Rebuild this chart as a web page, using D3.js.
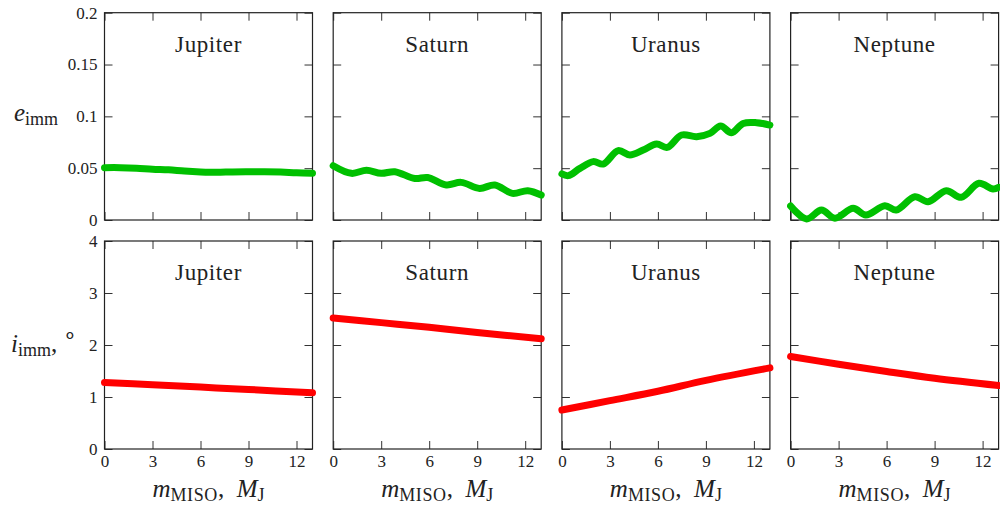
<!DOCTYPE html>
<html>
<head>
<meta charset="utf-8">
<script src="https://cdn.jsdelivr.net/npm/d3@7"></script>
<style>
  body { margin: 0; background: #fff; }
  text { font-family: "Liberation Serif", "Times New Roman", serif; fill: #222; }
</style>
</head>
<body>
<svg id="chart" width="1000" height="508"></svg>
<script>
// planets (columns)
const planets = ["Jupiter", "Saturn", "Uranus", "Neptune"];

// eccentricity e_imm vs m_MISO  [m, e]
const eJupiter = [[0,0.0505],[1,0.0505],[2,0.0500],[3,0.0490],[4,0.0484],[5,0.0472],[6,0.0464],[7,0.0460],[8,0.0464],[9,0.0465],[10,0.0465],[11,0.0462],[12,0.0456],[13,0.0452]];
const eSaturn = [[0,0.0524],[1.14,0.0450],[2.08,0.0480],[3.0,0.0450],[3.85,0.0466],[5.1,0.0400],[5.9,0.0410],[7.07,0.0338],[8.0,0.0363],[9.15,0.0305],[10.1,0.0338],[11.2,0.0257],[12.16,0.0283],[13,0.0241]];
const eUranus = [[0,0.0444],[0.4,0.0428],[1.13,0.0498],[1.96,0.0563],[2.58,0.0540],[3.52,0.0669],[4.25,0.0627],[5.08,0.0675],[5.92,0.0733],[6.58,0.0701],[7.48,0.0820],[8.42,0.0804],[9.25,0.0836],[9.92,0.0907],[10.6,0.0842],[11.33,0.0932],[12.17,0.0939],[13,0.0916]];
const eNeptune = [[0,0.0135],[1.0,0.0010],[1.93,0.0096],[2.77,0.0018],[3.91,0.0113],[4.7,0.0048],[5.89,0.0138],[6.6,0.0096],[7.76,0.0225],[8.59,0.0177],[9.73,0.0283],[10.67,0.0219],[11.77,0.0354],[12.65,0.0299],[13,0.0315]];

// inclination i_imm (deg) vs m_MISO  [m, i]
const iJupiter = [[0,1.28],[3,1.235],[6,1.19],[9,1.145],[13,1.08]];
const iSaturn = [[0,2.52],[3,2.43],[6,2.34],[9,2.24],[13,2.12]];
const iUranus = [[0,0.75],[3,0.93],[6,1.11],[9,1.32],[13,1.56]];
const iNeptune = [[0,1.78],[3,1.63],[6,1.49],[9,1.36],[13,1.22]];

const eSeries = [eJupiter, eSaturn, eUranus, eNeptune];
const iSeries = [iJupiter, iSaturn, iUranus, iNeptune];

const xTicks = [0, 3, 6, 9, 12];
const eTicks = [0, 0.05, 0.1, 0.15, 0.2];
const iTicks = [0, 1, 2, 3, 4];

// layout
const svg = d3.select("#chart");
const left = 104.5, pw = 208, gap = 20.7;
const rows = [
  { top: 12.7, h: 207.3, domain: [0, 0.2], ticks: eTicks, fmt: d => d === 0 ? "0" : String(d), series: eSeries, color: "#00c000" },
  { top: 241, h: 208, domain: [0, 4], ticks: iTicks, fmt: d => String(d), series: iSeries, color: "#ff0000" }
];

rows.forEach((row, ri) => {
  planets.forEach((name, ci) => {
    const x0 = left + ci * (pw + gap);
    const g = svg.append("g").attr("transform", `translate(${x0},${row.top})`);
    const x = d3.scaleLinear().domain([0, 13]).range([0, pw]);
    const y = d3.scaleLinear().domain(row.domain).range([row.h, 0]);

    // axes: ticks inward on all sides
    const tl = 8;
    const axL = g.append("g").call(d3.axisLeft(y).tickValues(row.ticks).tickSizeInner(-tl).tickSizeOuter(0).tickPadding(7).tickFormat(ci === 0 ? row.fmt : () => ""));
    const axR = g.append("g").attr("transform", `translate(${pw},0)`)
      .call(d3.axisRight(y).tickValues(row.ticks).tickSizeInner(-tl).tickSizeOuter(0).tickFormat(() => ""));
    const axT = g.append("g").call(d3.axisTop(x).tickValues(xTicks).tickSizeInner(-tl).tickSizeOuter(0).tickFormat(() => ""));
    const axB = g.append("g").attr("transform", `translate(0,${row.h})`)
      .call(d3.axisBottom(x).tickValues(xTicks).tickSizeInner(-tl).tickSizeOuter(0).tickPadding(6).tickFormat(ri === 1 ? d => String(d) : () => ""));
    [axL, axR, axT, axB].forEach(a => {
      a.attr("font-family", '"Liberation Serif", serif').attr("font-size", 17);
      a.select(".domain").remove();
      a.selectAll("line").attr("stroke", "#333").attr("stroke-width", 1);
      a.selectAll("text").attr("fill", "#222").style("font-family", '"Liberation Serif", serif');
    });

    // frame
    g.append("rect").attr("width", pw).attr("height", row.h)
      .attr("fill", "none").attr("stroke", "#222").attr("stroke-width", 1.2);

    // title
    g.append("text").attr("x", pw / 2).attr("y", 39).attr("text-anchor", "middle")
      .style("font-size", "23px").style("letter-spacing", "0.6px").text(name);

    // curve
    const line = d3.line().x(d => x(d[0])).y(d => y(d[1])).curve(d3.curveCatmullRom.alpha(0.5));
    g.append("path").datum(row.series[ci]).attr("d", line)
      .attr("fill", "none").attr("stroke", row.color).attr("stroke-width", 7)
      .attr("stroke-linecap", "round").attr("stroke-linejoin", "round");

    // x label under bottom row
    if (ri === 1) {
      const t = svg.append("text").attr("x", x0 + pw / 2).attr("y", 497).attr("text-anchor", "middle").style("font-size", "25px");
      t.append("tspan").style("font-style", "italic").text("m");
      t.append("tspan").attr("dy", 4).style("font-size", "18px").style("letter-spacing", "0.6px").text("MISO");
      t.append("tspan").attr("dy", -4).text(",\u2002");
      t.append("tspan").style("font-style", "italic").text("M");
      t.append("tspan").attr("dy", 4).style("font-size", "18px").text("J");
    }
  });
});

// y labels
const ey = svg.append("text").attr("x", 14).attr("y", 121).style("font-size", "25px");
ey.append("tspan").style("font-style", "italic").text("e");
ey.append("tspan").attr("dy", 4).style("font-size", "18px").text("imm");

const iy = svg.append("text").attr("x", 11).attr("y", 352).style("font-size", "25px");
iy.append("tspan").style("font-style", "italic").text("i");
iy.append("tspan").attr("dy", 4).style("font-size", "18px").text("imm");
iy.append("tspan").attr("dy", -4).text(", ");
iy.append("tspan").attr("dy", -10).style("font-size", "22px").text("\u2218");
</script>
</body>
</html>
